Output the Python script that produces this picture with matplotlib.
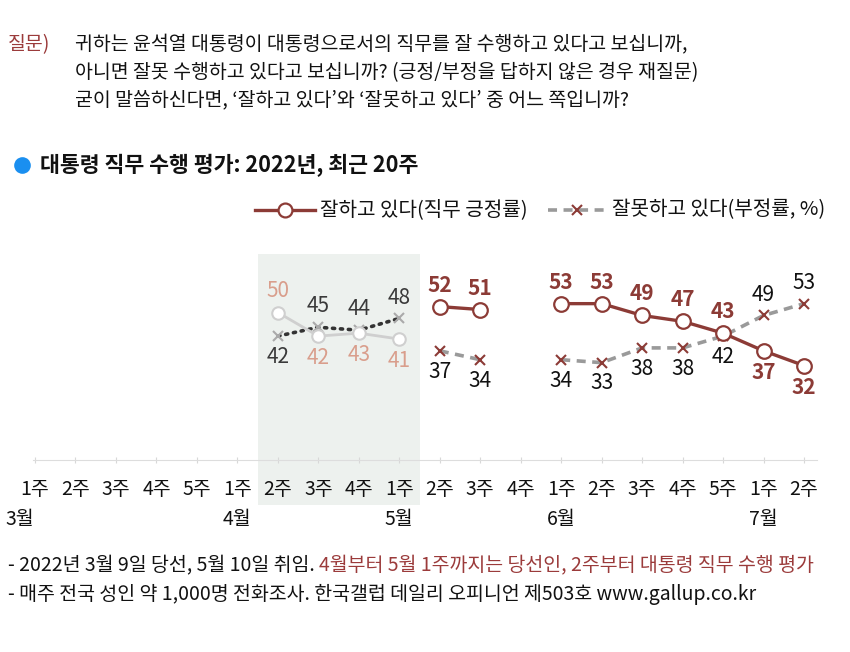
import numpy as np
import matplotlib
matplotlib.use("Agg")
import matplotlib.pyplot as plt
from matplotlib.patches import Rectangle
from matplotlib.lines import Line2D

plt.rcParams['font.family'] = ['Noto Sans CJK KR', 'DejaVu Sans']

nan = np.nan

# 20 weeks: 3월 1주 ~ 7월 2주
week_labels = ['1주', '2주', '3주', '4주', '5주',
               '1주', '2주', '3주', '4주',
               '1주', '2주', '3주', '4주',
               '1주', '2주', '3주', '4주', '5주',
               '1주', '2주']
month_labels = ['3월', '4월', '5월', '6월', '7월']
month_start = [0, 5, 9, 13, 18]

# 당선인 기간 (4월 2주 ~ 5월 1주)
elect_pos = [nan, nan, nan, nan, nan, nan, 50, 42, 43, 41,
             nan, nan, nan, nan, nan, nan, nan, nan, nan, nan]
elect_neg = [nan, nan, nan, nan, nan, nan, 42, 45, 44, 48,
             nan, nan, nan, nan, nan, nan, nan, nan, nan, nan]

# 대통령 직무 수행 평가 (5월 2주 ~)
pos = [nan, nan, nan, nan, nan, nan, nan, nan, nan, nan,
       52, 51, nan, 53, 53, 49, 47, 43, 37, 32]
neg = [nan, nan, nan, nan, nan, nan, nan, nan, nan, nan,
       37, 34, nan, 34, 33, 38, 38, 42, 49, 53]

RED = '#8c3b36'
GREY = '#9a9a9a'
FS = 14

W, H = 850, 652
fig = plt.figure(figsize=(W / 100, H / 100), dpi=100)


def fx(px):
    return px / W


def fy(py):
    return 1 - py / H


ax = fig.add_axes([fx(33), fy(460), fx(817) - fx(33), fy(253.5) - fy(460)])
ax.set_xlim(-0.05, 19.32)
ax.set_ylim(0, 70)
x = np.arange(20)

# shaded 당선인 period
ax.add_patch(Rectangle((5.5, -15.3), 4, 85, facecolor='#edf1ee', edgecolor='none',
                       clip_on=False, zorder=0))

# 당선인 lines
ax.plot(x, elect_pos, color='#cfcfcf', lw=2, marker='o', ms=9, mfc='white',
        mec='#cfcfcf', mew=1.5, zorder=3)
ax.plot(x, elect_neg, color='#333333', lw=2.6, ls=(0, (0.6, 1.6)), dash_capstyle='round',
        marker='x', ms=7, mec='#aaaaaa', mew=1.5, zorder=2)

# 대통령 lines
ax.plot(x, neg, color=GREY, lw=2.6, ls=(0, (2.5, 1.8)), marker='x', ms=7,
        mec=RED, mew=1.5, zorder=2)
ax.plot(x, pos, color=RED, lw=2.4, marker='o', ms=10.5, mfc='white',
        mec=RED, mew=1.6, zorder=3)


def put_labels(pv, nv, pcol, ncol, pweight):
    for i in range(20):
        if np.isnan(pv[i]):
            continue
        p_up = pv[i] > nv[i]
        ax.annotate(f'{pv[i]:.0f}', (i, pv[i]), xytext=(0, 15.5 if p_up else -15.5),
                    textcoords='offset points', ha='center', va='center',
                    fontsize=15, color=pcol, fontweight=pweight)
        ax.annotate(f'{nv[i]:.0f}', (i, nv[i]), xytext=(0, -15 if p_up else 15),
                    textcoords='offset points', ha='center', va='center',
                    fontsize=15, color=ncol)


put_labels(elect_pos, elect_neg, '#d99e8c', '#3a3a3a', 'normal')
put_labels(pos, neg, RED, '#111111', 'bold')

# axis
for s in ['top', 'right', 'left']:
    ax.spines[s].set_visible(False)
ax.spines['bottom'].set_color('#dddddd')
ax.set_yticks([])
ax.set_xticks(x)
ax.set_xticklabels(week_labels, fontsize=FS, color='#111111')
ax.tick_params(axis='x', direction='inout', length=5, color='#d8d8d8', pad=11)

for lab, i in zip(month_labels, month_start):
    xx = i - 0.37 if i == 0 else i
    ax.text(xx, -0.29, lab, transform=ax.get_xaxis_transform(), ha='center', va='center',
            fontsize=FS, color='#111111')

# question
fig.text(fx(8), fy(45), '질문)', fontsize=FS, color='#9b3b3b', va='center')
q_lines = ['귀하는 윤석열 대통령이 대통령으로서의 직무를 잘 수행하고 있다고 보십니까,',
           '아니면 잘못 수행하고 있다고 보십니까? (긍정/부정을 답하지 않은 경우 재질문)',
           '굳이 말씀하신다면, ‘잘하고 있다’와 ‘잘못하고 있다’ 중 어느 쪽입니까?']
for k, line in enumerate(q_lines):
    fig.text(fx(75), fy(45 + 27.5 * k), line, fontsize=FS, color='#111111', va='center')

# title
fig.add_artist(Line2D([fx(22)], [fy(165)], marker='o', ms=12, mfc='#1a8ff0', mec='none'))
fig.text(fx(40), fy(165), '대통령 직무 수행 평가: 2022년, 최근 20주', fontsize=15.6,
         fontweight='bold', color='#111111', va='center')

# legend
ly = fy(210)
fig.add_artist(Line2D([fx(255), fx(315)], [ly, ly], color=RED, lw=2.4))
fig.add_artist(Line2D([fx(285)], [ly], marker='o', ms=10, mfc='white', mec=RED, mew=1.6))
fig.text(fx(320), ly, '잘하고 있다(직무 긍정률)', fontsize=14.5, va='center', color='#111111')
fig.add_artist(Line2D([fx(548), fx(605)], [ly, ly], color=GREY, lw=2.6, ls=(0, (2.5, 1.8))))
fig.add_artist(Line2D([fx(577)], [ly], marker='x', ms=7, mec=RED, mew=1.5))
fig.text(fx(612), ly, '잘못하고 있다(부정률, %)', fontsize=14.5, va='center', color='#111111')

# footnotes
t1 = fig.text(fx(8), fy(566), '- 2022년 3월 9일 당선, 5월 10일 취임. ', fontsize=FS,
              va='center', color='#111111')
fig.canvas.draw()
bb = t1.get_window_extent()
fig.text(bb.x1 / fig.dpi / fig.get_figwidth(), fy(566),
         '4월부터 5월 1주까지는 당선인, 2주부터 대통령 직무 수행 평가',
         fontsize=FS, va='center', color='#9b3b3b')
fig.text(fx(8), fy(594), '- 매주 전국 성인 약 1,000명 전화조사. 한국갤럽 데일리 오피니언 제503호 www.gallup.co.kr',
         fontsize=FS, va='center', color='#111111')

fig.savefig('out.png', dpi=100)
